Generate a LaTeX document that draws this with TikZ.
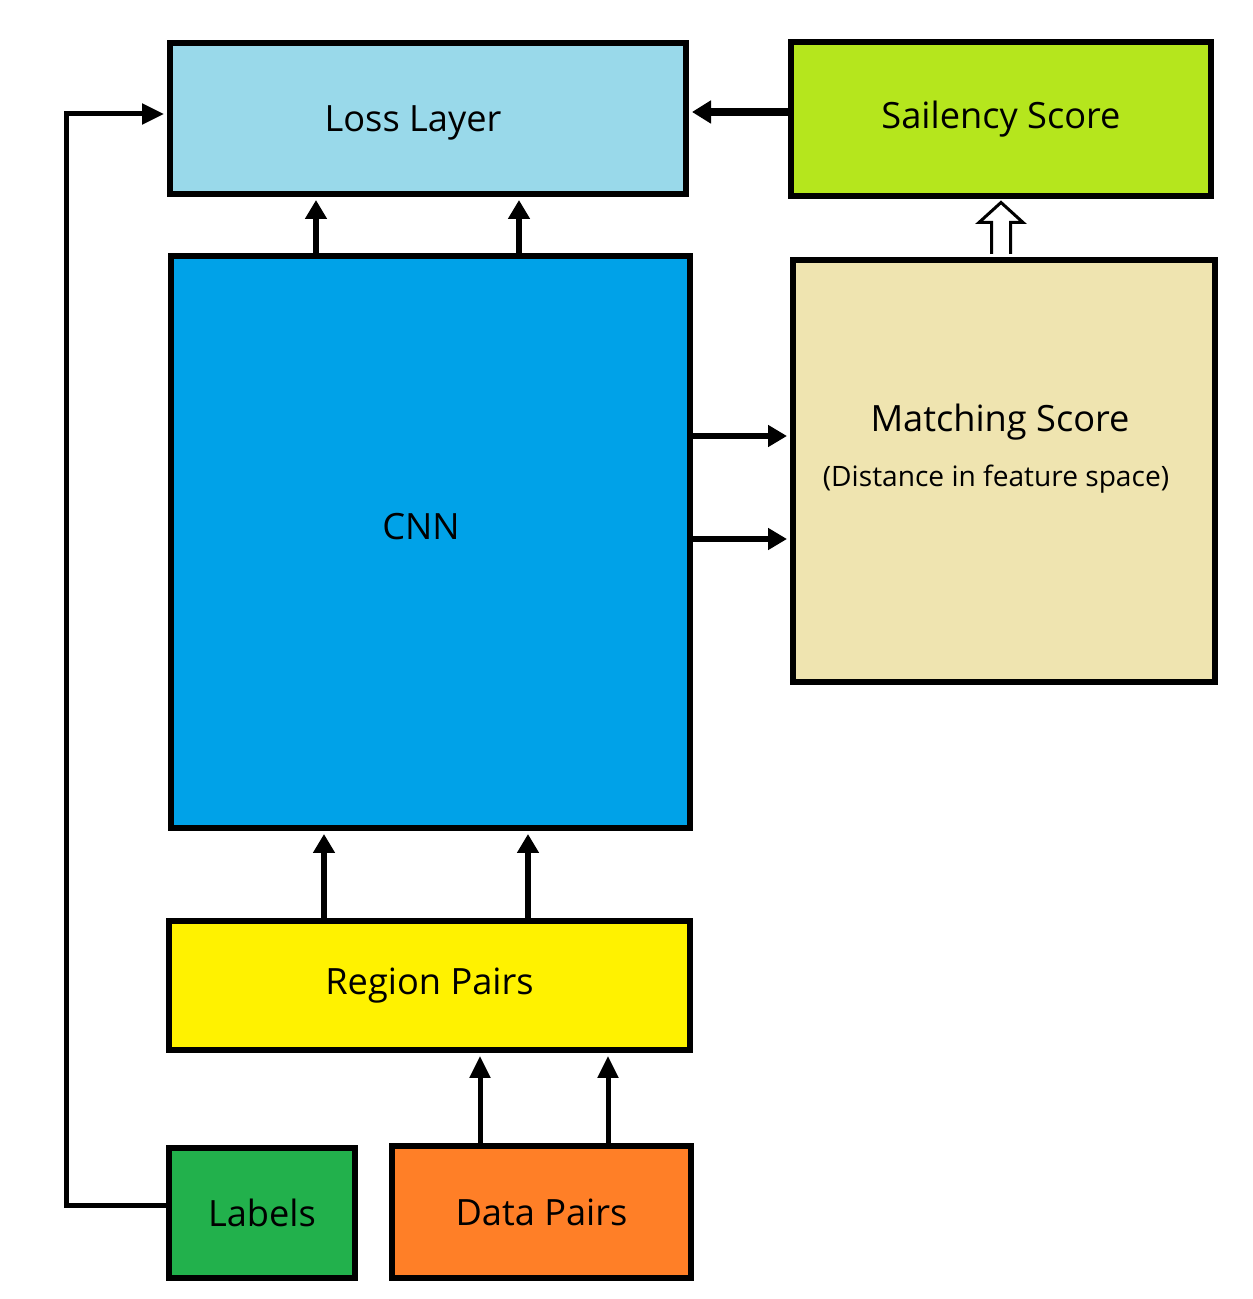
\documentclass[tikz,border=0pt]{standalone}
\usepackage{fontspec}
\setmainfont{Open Sans}
\usepackage{tikz}
\usetikzlibrary{arrows.meta, calc, positioning}
\definecolor{cLoss}{HTML}{99D9EA}
\definecolor{cSal}{HTML}{B5E61D}
\definecolor{cCNN}{HTML}{00A2E8}
\definecolor{cMatch}{HTML}{EFE4B0}
\definecolor{cRegion}{HTML}{FFF200}
\definecolor{cLabel}{HTML}{22B14C}
\definecolor{cData}{HTML}{FF7F27}

\begin{document}
\begin{tikzpicture}[
    box/.style={draw=black, line width=0.06cm, inner sep=0pt,
        font=\fontsize{10.3}{12}\selectfont},
    txt/.style={inner sep=0pt, font=\fontsize{10.3}{12}\selectfont},
    arr/.style={line width=0.06cm, -{Triangle[width=0.21cm, length=0.19cm]}, shorten >=0.03cm},
    arrthin/.style={line width=0.05cm, -{Triangle[width=0.2cm, length=0.22cm]}, shorten >=0.03cm}
]

    \useasboundingbox (0,0) rectangle (12.52,12.99);

    %% Boxes
    \node[box, fill=cLoss, minimum width=5.16cm, minimum height=1.51cm] (loss) at (4.28,11.805) {};
    \node[box, fill=cSal, minimum width=4.20cm, minimum height=1.54cm] (sal) at (10.01,11.80) {Sailency Score};
    \node[box, fill=cCNN, minimum width=5.19cm, minimum height=5.72cm] (cnn) at (4.305,7.57) {};
    \node[box, fill=cMatch, minimum width=4.22cm, minimum height=4.22cm] (match) at (10.04,8.28) {};
    \node[box, fill=cRegion, minimum width=5.21cm, minimum height=1.29cm] (region) at (4.295,3.135) {Region Pairs};
    \node[box, fill=cLabel, minimum width=1.86cm, minimum height=1.30cm] (lab) at (2.62,0.86) {Labels};
    \node[box, fill=cData, minimum width=2.99cm, minimum height=1.32cm] (data) at (5.415,0.87) {Data Pairs};

    %% Texts
    \node[txt] (lossT) at (4.13,11.76) {Loss Layer};
    \node[txt] (cnnT) at (4.21,7.72) {CNN};
    \node[txt] (matchT) at (10.00,8.77) {Matching Score};
    \node[txt, font=\fontsize{8}{10}\selectfont] (matchS) at (9.96,8.20) {(Distance in feature space)};

    %% Arrows
    \draw[arr] ([xshift=-1.145cm]cnn.north) -- ([xshift=-1.145cm]cnn.north |- loss.south);
    \draw[arr] ([xshift=0.885cm]cnn.north) -- ([xshift=0.885cm]cnn.north |- loss.south);

    \draw[arr] ([xshift=-1.055cm]region.north) -- ([xshift=-1.055cm]region.north |- cnn.south);
    \draw[arr] ([xshift=0.985cm]region.north) -- ([xshift=0.985cm]region.north |- cnn.south);

    \draw[arrthin] ([xshift=-0.615cm]data.north) -- ([xshift=-0.615cm]data.north |- region.south);
    \draw[arrthin] ([xshift=0.665cm]data.north) -- ([xshift=0.665cm]data.north |- region.south);

    \draw[arr] ([yshift=1.06cm]cnn.east) -- ([yshift=1.06cm]cnn.east -| match.west);
    \draw[arr] ([yshift=0.03cm]cnn.east) -- ([yshift=0.03cm]cnn.east -| match.west);

    \draw[line width=0.08cm, -{Triangle[width=0.22cm, length=0.19cm]}, shorten >=0.03cm]
        ([yshift=0.07cm]sal.west) -- ([yshift=0.07cm]sal.west -| loss.east);

    \draw[arrthin] ([yshift=0.07cm]lab.west) -- ++(-1.0,0) |- ([yshift=0.045cm]loss.west);

    %% Hollow arrow
    \coordinate (hs) at ([yshift=-0.035cm]sal.south);
    \coordinate (hm) at ([yshift=0.03cm]sal.south |- match.north);
    \draw[fill=white, line width=0.03cm, line join=miter]
        ($(hm)+(-0.095,0)$) -- ($(hs)+(-0.095,-0.2)$) -- ($(hs)+(-0.22,-0.2)$) -- (hs)
        -- ($(hs)+(0.22,-0.2)$) -- ($(hs)+(0.095,-0.2)$) -- ($(hm)+(0.095,0)$);

\end{tikzpicture}
\end{document}
